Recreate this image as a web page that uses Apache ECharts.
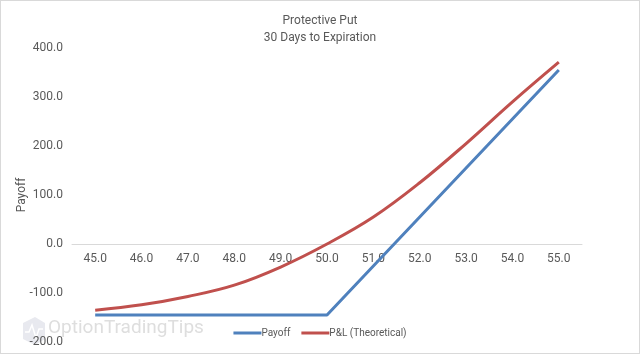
<!DOCTYPE html>
<html>
<head>
<meta charset="utf-8">
<script src="https://cdn.jsdelivr.net/npm/echarts@6/dist/echarts.min.js"></script>
<style>
  html, body { margin: 0; padding: 0; background: #fff; }
  #chart { width: 640px; height: 354px; box-sizing: border-box; border: 1px solid #d9d9d9; }
</style>
</head>
<body>
<div id="chart"></div>
<script>
// stock price at expiration
const prices = ['45.0', '46.0', '47.0', '48.0', '49.0', '50.0', '51.0', '52.0', '53.0', '54.0', '55.0'];
// payoff at expiration
const payoff = [-145, -145, -145, -145, -145, -145, -45, 55, 155, 255, 355];
// theoretical P&L with 30 days left
const theoretical = [-135, -124, -107, -84, -47, 0, 55, 125, 205, 290, 371];
const yMin = -200, yMax = 400;

const chart = echarts.init(document.getElementById('chart'), null, { renderer: 'canvas' });

const textColor = '#595959';
const font = 'Roboto, "Open Sans", sans-serif';
const gridTop = 47, gridHeight = 294;
// put the category axis (with its labels) on the zero line
const zeroOffset = -gridHeight * (0 - yMin) / (yMax - yMin);

chart.setOption({
  backgroundColor: '#ffffff',
  animation: false,
  textStyle: { fontFamily: font },
  title: {
    text: 'Protective Put\n30 Days to Expiration',
    left: 'center',
    top: 6,
    textStyle: { fontSize: 12, fontWeight: 'normal', color: textColor, lineHeight: 17, fontFamily: font }
  },
  legend: {
    bottom: 10,
    left: 'center',
    itemWidth: 28,
    itemHeight: 3,
    itemGap: 11,
    icon: 'rect',
    textStyle: { fontSize: 10, color: textColor, padding: [0, 0, 0, -5] },
    data: ['Payoff', 'P&L (Theoretical)']
  },
  grid: { left: 71, right: 57, top: gridTop, height: gridHeight, containLabel: false, outerBoundsMode: 'none' },
  xAxis: {
    type: 'category',
    data: prices,
    boundaryGap: true,
    offset: zeroOffset,
    axisLine: { onZero: false, lineStyle: { color: '#d9d9d9', width: 1 } },
    axisTick: { show: false },
    axisLabel: { color: textColor, fontSize: 12, margin: 9 }
  },
  yAxis: {
    type: 'value',
    min: yMin,
    max: yMax,
    interval: 100,
    name: 'Payoff',
    nameLocation: 'middle',
    nameGap: 44,
    nameRotate: 90,
    nameMoveOverlap: false,
    nameTextStyle: { color: textColor, fontSize: 12 },
    axisLine: { show: false },
    axisTick: { show: false },
    splitLine: { show: false },
    axisLabel: {
      color: textColor,
      fontSize: 12,
      margin: 9,
      formatter: v => v.toFixed(1)
    }
  },
  graphic: [
    {
      type: 'polygon',
      z: -1,
      shape: { points: [[22, 322], [34, 316], [44, 322], [44, 338], [34, 344], [22, 338]] },
      style: { fill: '#e8e9ef' }
    },
    {
      type: 'polyline',
      z: -1,
      shape: { points: [[24, 331], [28, 331], [31, 324], [35, 337], [38, 328], [42, 328]] },
      style: { stroke: '#ffffff', lineWidth: 1.5, fill: null }
    },
    {
      type: 'text',
      left: 47,
      top: 318,
      z: -1,
      style: {
        text: 'OptionTradingTips',
        fontSize: 19,
        fontFamily: font,
        fill: '#dedede'
      }
    }
  ],
  series: [
    {
      name: 'Payoff',
      type: 'line',
      data: payoff,
      showSymbol: false,
      symbol: 'none',
      lineStyle: { color: '#4f81bd', width: 3 },
      itemStyle: { color: '#4f81bd' }
    },
    {
      name: 'P&L (Theoretical)',
      type: 'line',
      data: theoretical,
      smooth: 0.4,
      showSymbol: false,
      symbol: 'none',
      lineStyle: { color: '#c0504d', width: 3 },
      itemStyle: { color: '#c0504d' }
    }
  ]
});
</script>
</body>
</html>
